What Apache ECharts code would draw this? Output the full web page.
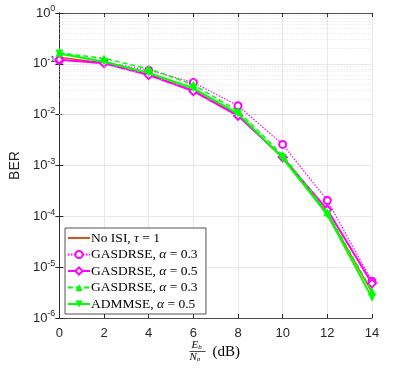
<!DOCTYPE html>
<html>
<head>
<meta charset="utf-8">
<script src="https://cdn.jsdelivr.net/npm/echarts@6/dist/echarts.min.js"></script>
<style>
  html, body { margin: 0; padding: 0; background: #fff; }
  #chart { width: 399px; height: 372px; }
</style>
</head>
<body>
<div id="chart"></div>
<script>
// Eb/No in dB
var snr = [0, 2, 4, 6, 8, 10, 12, 14];
// BER curves
var noIsi = [0.135, 0.104, 0.062, 0.030, 0.0098, 0.00140, 0.000115, 3.2e-6];
var gasdrse03 = [0.118, 0.108, 0.075, 0.043, 0.0150, 0.0026, 0.000205, 5.3e-6];
var gasdrse05 = [0.120, 0.103, 0.060, 0.029, 0.0095, 0.00145, 0.000135, 4.8e-6];
var gasdrse03g = [0.165, 0.128, 0.080, 0.039, 0.0118, 0.0016, 0.000120, 3.4e-6];
var admmse05 = [0.160, 0.110, 0.066, 0.033, 0.0105, 0.0014, 0.000108, 2.5e-6];
var names = [
  "No ISI, {i|τ} = 1",
  "GASDRSE, {i|α} = 0.3",
  "GASDRSE, {i|α} = 0.5",
  "GASDRSE, {i|α} = 0.3 ",
  "ADMMSE, {i|α} = 0.5"
];

function pairs(ys) {
  return snr.map(function (x, i) { return [x, ys[i]]; });
}

// minor grid positions 2..9 x 10^k (axis decoration only)
var minorLines = [];
for (var k = -6; k < 0; k++) {
  for (var m = 2; m <= 9; m++) {
    minorLines.push({ yAxis: m * Math.pow(10, k) });
  }
}

var axisColor = "#262626";
var tickFont = "Liberation Sans";
var serif = "Liberation Serif";
var chart = echarts.init(document.getElementById("chart"));

// legend entries; the plain line entry gets no marker
var legendData = names.map(function (n, i) {
  return i === 0 ? { name: n, itemStyle: { opacity: 0 } } : { name: n };
});

chart.setOption({
  animation: false,
  backgroundColor: "#fff",
  grid: { left: 55, right: 27, top: 13, bottom: 54 },
  legend: {
    orient: "vertical",
    left: 65,
    top: 228,
    padding: [3, 5, 3, 2],
    itemGap: 2.5,
    itemWidth: 22,
    itemHeight: 9,
    backgroundColor: "#fff",
    borderColor: axisColor,
    borderWidth: 0.8,
    borderRadius: 0,
    data: legendData,
    textStyle: {
      fontFamily: serif,
      fontSize: 13.5,
      color: "#000",
      padding: [0, 0, 0, -4],
      rich: {
        i: { fontFamily: serif, fontStyle: "italic", fontSize: 13.5 }
      }
    }
  },
  xAxis: [
    {
      type: "value",
      min: 0,
      max: 14,
      interval: 2,
      axisLine: { lineStyle: { color: axisColor, width: 0.8 } },
      axisTick: { inside: true, length: 4, lineStyle: { color: axisColor } },
      axisLabel: { color: axisColor, fontFamily: tickFont, fontSize: 13, margin: 9 },
      splitLine: { show: true, lineStyle: { color: "#e3e3e3", width: 0.8 } }
    },
    {
      type: "value",
      position: "top",
      min: 0,
      max: 14,
      interval: 2,
      axisLine: { show: true, lineStyle: { color: axisColor, width: 0.8 } },
      axisTick: { show: true, inside: true, length: 4, lineStyle: { color: axisColor } },
      axisLabel: { show: false },
      splitLine: { show: false }
    }
  ],
  yAxis: [
    {
      type: "log",
      logBase: 10,
      min: 1e-6,
      max: 1,
      splitNumber: 6,
      name: "BER",
      nameLocation: "middle",
      nameGap: 26,
      nameTextStyle: { color: axisColor, fontFamily: tickFont, fontSize: 14 },
      axisLine: { show: true, lineStyle: { color: axisColor, width: 0.8 } },
      axisTick: { show: true, inside: true, length: 4, lineStyle: { color: axisColor } },
      axisLabel: {
        color: axisColor,
        fontFamily: tickFont,
        fontSize: 13,
        margin: 4,
        formatter: function (v) {
          return "10{sup|" + Math.round(Math.log10(v)) + "}";
        },
        rich: {
          sup: { fontFamily: tickFont, fontSize: 9, color: axisColor, verticalAlign: "top", padding: [0, 0, 8, 0] }
        }
      },
      splitLine: { show: true, lineStyle: { color: "#e3e3e3", width: 0.8 } }
    },
    {
      type: "log",
      logBase: 10,
      min: 1e-6,
      max: 1,
      splitNumber: 6,
      position: "right",
      axisLine: { show: true, lineStyle: { color: axisColor, width: 0.8 } },
      axisTick: { show: true, inside: true, length: 4, lineStyle: { color: axisColor } },
      axisLabel: { show: false },
      splitLine: { show: false }
    }
  ],
  series: [
    {
      name: "minor",
      type: "line",
      data: [],
      silent: true,
      markLine: {
        silent: true,
        symbol: "none",
        label: { show: false },
        lineStyle: { color: "#d6d6d6", type: [1, 2], width: 0.7 },
        data: minorLines
      }
    },
    {
      name: names[0],
      type: "line",
      data: pairs(noIsi),
      symbol: "none",
      color: "#D95319",
      lineStyle: { width: 1.5, color: "#D95319" },
      z: 3
    },
    {
      name: names[1],
      type: "line",
      data: pairs(gasdrse03),
      symbol: "emptyCircle",
      symbolSize: 7,
      color: "#ff00ff",
      lineStyle: { width: 1.2, type: [1.5, 1.5], color: "#ff00ff" },
      itemStyle: { borderWidth: 1.3, color: "#ff00ff" },
      z: 4
    },
    {
      name: names[2],
      type: "line",
      data: pairs(gasdrse05),
      symbol: "emptyDiamond",
      symbolSize: 8,
      color: "#ff00ff",
      lineStyle: { width: 2, color: "#ff00ff" },
      itemStyle: { borderWidth: 1.3, color: "#ff00ff" },
      z: 4
    },
    {
      name: names[3],
      type: "line",
      data: pairs(gasdrse03g),
      symbol: "triangle",
      symbolSize: 8,
      color: "#00ff00",
      lineStyle: { width: 1.5, type: [5, 3], color: "#00ff00" },
      itemStyle: { color: "#00ff00" },
      z: 5
    },
    {
      name: names[4],
      type: "line",
      data: pairs(admmse05),
      symbol: "triangle",
      symbolRotate: 180,
      symbolSize: 8,
      color: "#00ff00",
      lineStyle: { width: 2, color: "#00ff00" },
      itemStyle: { color: "#00ff00" },
      z: 5
    }
  ],
  graphic: [
    {
      type: "group",
      left: 187,
      top: 340,
      children: [
        {
          type: "text",
          x: 2,
          y: 0,
          style: { text: "{e|E}{s|b}", rich: {
            e: { fontFamily: serif, fontStyle: "italic", fontSize: 11, fill: "#000" },
            s: { fontFamily: serif, fontStyle: "italic", fontSize: 7, fill: "#000", verticalAlign: "bottom" }
          } }
        },
        {
          type: "line",
          shape: { x1: 0, y1: 11.5, x2: 16, y2: 11.5 },
          style: { stroke: "#000", lineWidth: 0.7 }
        },
        {
          type: "text",
          x: 0,
          y: 12,
          style: { text: "{e|N}{s|o}", rich: {
            e: { fontFamily: serif, fontStyle: "italic", fontSize: 11, fill: "#000" },
            s: { fontFamily: serif, fontStyle: "italic", fontSize: 7, fill: "#000", verticalAlign: "bottom" }
          } }
        },
        {
          type: "text",
          x: 23,
          y: 5,
          style: { text: "(dB)", font: "15px Liberation Serif", fill: "#000" }
        }
      ]
    }
  ]
});
</script>
</body>
</html>
